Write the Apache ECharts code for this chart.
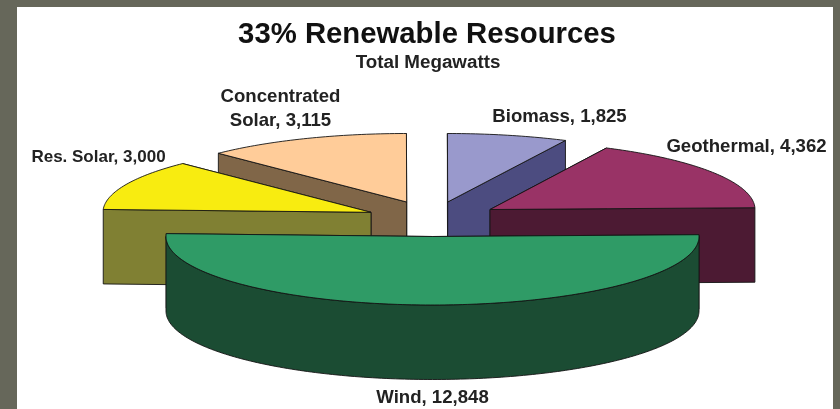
<!DOCTYPE html>
<html>
<head>
<meta charset="utf-8">
<style>
html,body{margin:0;padding:0;background:#66675a;}
#c{width:840px;height:409px;filter:blur(0.45px);}
</style>
<script src="https://cdn.jsdelivr.net/npm/echarts@6/dist/echarts.min.js"></script>
</head>
<body>
<div id="c"></div>
<script>
// Data, in the order the slices run round the pie (clockwise from 3 o'clock)
var categories = ['Wind', 'Res. Solar', 'Concentrated\nSolar', 'Biomass', 'Geothermal'];
var megawatts = [12848, 3000, 3115, 1825, 4362];
var titleText = '33% Renewable Resources';
var subtitleText = 'Total Megawatts';

// Presentation (not data)
var topColors  = ['#2f9b66', '#f8ec10', '#ffcc99', '#9999cc', '#993366'];
var wallColors = ['#1b4c33', '#808033', '#806648', '#4c4c80', '#4c1a33'];
var hubs = [[432.5, 236.5], [371, 212.3], [406.7, 202], [447.7, 202], [490, 209.5]];
var radiusX = [266.5, 268, 268, 268, 265];
var labelAnchors = [[432.5, 398], [98.5, 157], [280.5, 109], [559.5, 117], [746.5, 147]];
var labelSizes = [18.6, 17, 18.6, 18.6, 18.6];
var drawOrder = [2, 3, 1, 4, 0];
var startAngle = -1.5, radiusY = 68.5, depth = 74.5, inkColor = '#222';

var total = megawatts.reduce(function (a, b) { return a + b; }, 0);
function angleSpan(ring) {
  var before = 0;
  for (var i = 0; i < ring; i++) before += megawatts[i];
  return [startAngle + before / total * 360, startAngle + (before + megawatts[ring]) / total * 360];
}
function formatValue(v) { return String(v).replace(/\B(?=(\d{3})+$)/g, ','); }

function renderSlice(params, api) {
  var ring = api.value(0), value = api.value(1);
  var span = angleSpan(ring), hub = hubs[ring], rx = radiusX[ring];
  function rim(deg, drop) {
    var r = deg * Math.PI / 180;
    return [hub[0] + rx * Math.cos(r), hub[1] + radiusY * Math.sin(r) + (drop || 0)];
  }
  function poly(points, fill) {
    return { type: 'polygon', shape: { points: points },
      style: { fill: fill, stroke: '#141414', lineWidth: 0.9, lineJoin: 'round' } };
  }
  var children = [];
  // radial cut faces, the one nearer the viewer painted last
  var edges = [span[0], span[1]].sort(function (a, b) {
    return Math.sin(a * Math.PI / 180) - Math.sin(b * Math.PI / 180);
  });
  edges.forEach(function (deg) {
    var p = rim(deg);
    children.push(poly([hub, p, [p[0], p[1] + depth], [hub[0], hub[1] + depth]], wallColors[ring]));
  });
  // curved outer face, only where it faces the viewer
  var from = Math.max(span[0], 0), to = Math.min(span[1], 180), d;
  if (to > from) {
    var wall = [];
    for (d = from; d <= to; d += 1) wall.push(rim(d));
    for (d = to; d >= from; d -= 1) wall.push(rim(d, depth));
    children.push(poly(wall, wallColors[ring]));
  }
  // top face
  var top = [hub];
  for (d = span[0]; d < span[1]; d += 1) top.push(rim(d));
  top.push(rim(span[1]));
  children.push(poly(top, topColors[ring]));
  // label
  children.push({ type: 'text', x: labelAnchors[ring][0], y: labelAnchors[ring][1],
    style: { text: categories[ring] + ', ' + formatValue(value), fill: inkColor,
      font: 'bold ' + labelSizes[ring] + 'px "Liberation Sans"', align: 'center', verticalAlign: 'middle', lineHeight: 24 } });
  return { type: 'group', children: children };
}

var chart = echarts.init(document.getElementById('c'), null, { renderer: 'canvas' });
chart.setOption({
  animation: false,
  backgroundColor: '#66675a',
  graphic: [{ type: 'rect', z: -10, silent: true,
    shape: { x: 17, y: 7, width: 816, height: 410 }, style: { fill: '#ffffff' } }],
  title: [
    { text: titleText, left: 422, top: 15, textAlign: 'center',
      textStyle: { fontFamily: 'Liberation Sans', fontWeight: 'bold', fontSize: 29.3, color: '#111' } },
    { text: subtitleText, left: 423, top: 48, textAlign: 'center',
      textStyle: { fontFamily: 'Liberation Sans', fontWeight: 'bold', fontSize: 18.8, color: inkColor } }
  ],
  series: [{
    type: 'custom',
    coordinateSystem: 'none',
    silent: true,
    renderItem: renderSlice,
    data: drawOrder.map(function (i) { return [i, megawatts[i]]; })
  }]
});
</script>
</body>
</html>
